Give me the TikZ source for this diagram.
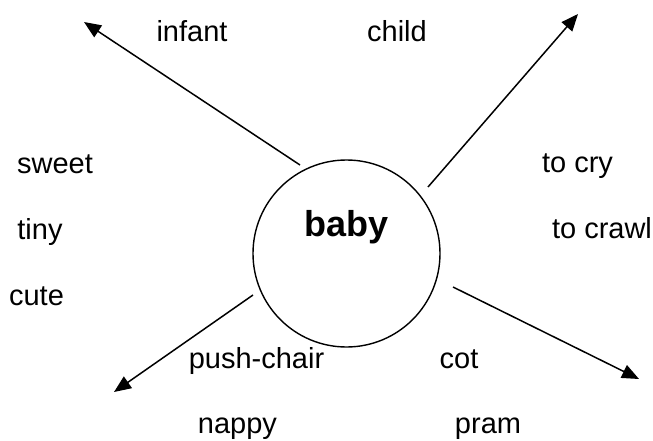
\documentclass[tikz,border=0pt]{standalone}
\usepackage{fontspec}
\setmainfont{Liberation Sans}
\usetikzlibrary{arrows.meta}
\tikzset{
  word/.style={anchor=base, inner sep=0pt, font=\fontsize{29}{34}\selectfont},
  hub/.style={circle, draw, line width=1.4pt, minimum size=187pt, inner sep=0pt},
  ray/.style={line width=1.5pt, -{Triangle[length=17pt,width=14pt]}}
}
\begin{document}
\begin{tikzpicture}[x=1pt, y=-1pt]
  \useasboundingbox (0,0) rectangle (653,441);
  % central circle and its word
  \node[hub] (hub) at (346.5,253.5) {};
  \node[anchor=base, inner sep=0pt, font=\fontsize{36}{42}\selectfont\bfseries] (baby) at (346.5,236) {baby};
  % arrow ends
  \coordinate (s1) at (300,165);  \coordinate (t1) at (84,22);
  \coordinate (s2) at (428,187);  \coordinate (t2) at (578,14);
  \coordinate (s3) at (253,295);  \coordinate (t3) at (114,392);
  \coordinate (s4) at (453,287);  \coordinate (t4) at (639,379);
  \draw[ray] (s1) -- (t1);
  \draw[ray] (s2) -- (t2);
  \draw[ray] (s3) -- (t3);
  \draw[ray] (s4) -- (t4);
  % surrounding words
  \node[word] (infant) at (192,42) {infant};
  \node[word] (child) at (397,42) {child};
  \node[word] (sweet) at (55,173) {sweet};
  \node[word] (tiny) at (40,239) {tiny};
  \node[word] (cute) at (36.5,305) {cute};
  \node[word] (cry) at (577.5,172) {to cry};
  \node[word] (crawl) at (602,238) {to crawl};
  \node[word] (push) at (256.5,368) {push-chair};
  \node[word] (cot) at (459,368) {cot};
  \node[word] (nappy) at (237.5,433) {nappy};
  \node[word] (pram) at (488,433) {pram};
\end{tikzpicture}
\end{document}
